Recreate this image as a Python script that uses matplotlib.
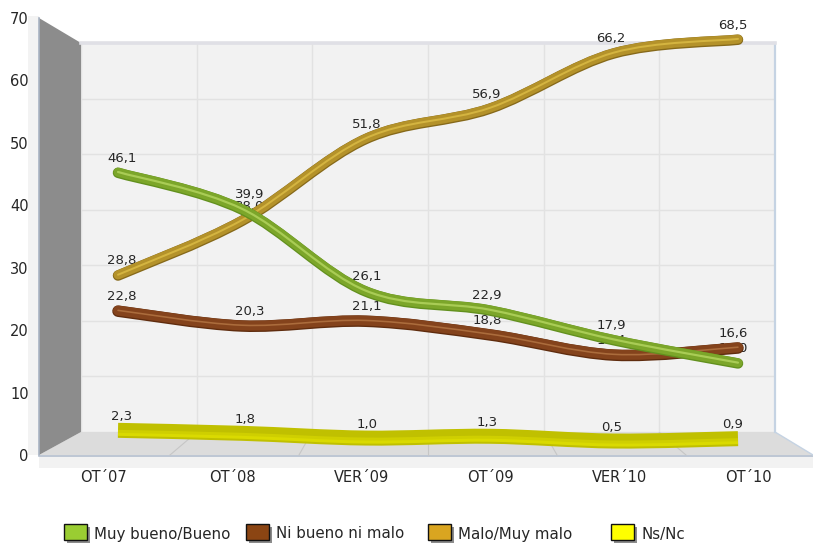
import numpy as np
import matplotlib
matplotlib.use("Agg")
import matplotlib.pyplot as plt
import matplotlib.transforms as mtrans
from matplotlib.path import Path
from matplotlib.patches import PathPatch, Polygon, Rectangle

categories = ["OT´07", "OT´08", "VER´09", "OT´09", "VER´10", "OT´10"]
muy_bueno = [46.1, 39.9, 26.1, 22.9, 17.9, 14.0]
ni_bueno = [22.8, 20.3, 21.1, 18.8, 15.4, 16.6]
malo = [28.8, 38.0, 51.8, 56.9, 66.2, 68.5]
ns_nc = [2.3, 1.8, 1.0, 1.3, 0.5, 0.9]
y_ticks = [0, 10, 20, 30, 40, 50, 60, 70]

W, H = 813, 544
fig = plt.figure(figsize=(W / 100, H / 100), dpi=100, facecolor="white")
plt.rcParams["font.family"] = "DejaVu Sans"
TXT = "#262626"


def px_axes(x0, y0, x1, y1, **kw):
    return fig.add_axes([x0 / W, 1 - y1 / H, (x1 - x0) / W, (y1 - y0) / H], **kw)


# pixel backdrop: frame of the pseudo-3D box
bg = px_axes(0, 0, W, H)
bg.set_xlim(0, W)
bg.set_ylim(H, 0)
bg.axis("off")
bg.add_patch(Rectangle((28, 16), 11, 439, fc="#f3f3f3", ec="none"))
bg.add_patch(Rectangle((39, 455), 774, 13, fc="#f2f2f2", ec="none"))
bg.add_patch(Polygon([(81, 432), (775, 432), (813, 455), (39, 455)], fc="#dcdcdc", ec="none"))
bg.add_patch(Polygon([(39, 18), (81, 43), (81, 432), (39, 455)], fc="#8c8c8c", ec="none"))
bg.plot([39, 39], [18, 455], color="#a9b4c4", lw=1.2)
bg.plot([39, 813], [455.5, 455.5], color="#b4bfcf", lw=1.2)
for xb, xf in [(197, 170), (312, 299), (428, 428), (544, 557), (659, 686)]:
    bg.plot([xb, xf], [432, 455], color="#c6c6c6", lw=0.8)
bg.plot([775, 813], [432, 455], color="#c5d3e3", lw=1)

# back wall with its own scales
wall = px_axes(81, 43, 775, 432)
wall.set_facecolor("#f2f2f2")
wall.set_xlim(0, 6)
wall.set_ylim(0, 70)
wall.set_xticks(range(7))
wall.set_yticks(y_ticks)
wall.grid(True, color="#e2e2e2", lw=1.0)
wall.tick_params(length=0, labelleft=False, labelbottom=False)
for s in wall.spines.values():
    s.set_visible(False)
wall.spines["top"].set_visible(True)
wall.spines["top"].set_color("#e0e0e6")
wall.spines["top"].set_linewidth(2.6)
wall.spines["right"].set_visible(True)
wall.spines["right"].set_color("#c5d3e3")
wall.spines["right"].set_linewidth(1.6)

# front axis carrying tick labels
front = px_axes(39, 18, 813, 455)
front.patch.set_visible(False)
front.set_xlim(-0.5, 5.5)
front.set_ylim(0, 70)
front.set_xticks(range(6))
front.set_xticklabels(categories)
front.set_yticks(y_ticks)
front.tick_params(length=0, labelsize=10.5, labelcolor=TXT)
front.tick_params(axis="y", pad=7.5)
front.tick_params(axis="x", pad=10.5)
for s in front.spines.values():
    s.set_visible(False)

# series axes: x 118..738 px for the six points, value scale of the pipes
PX0, DX, Y0, SY = 118, 124, 446, 5.94
ax = px_axes(0, 0, W, H)
ax.patch.set_visible(False)
ax.axis("off")
ax.set_xlim(-PX0 / DX, (W - PX0) / DX)
ax.set_ylim((Y0 - H) / SY, Y0 / SY)


def smooth_path(vals):
    p = np.column_stack([np.arange(len(vals), dtype=float), vals])
    verts, codes = [p[0]], [Path.MOVETO]
    for i in range(len(p) - 1):
        a = p[max(i - 1, 0)]
        d = p[min(i + 2, len(p) - 1)]
        verts += [p[i] + (p[i + 1] - a) / 6, p[i + 1] - (d - p[i]) / 6, p[i + 1]]
        codes += [Path.CURVE4] * 3
    return Path(np.array(verts), codes)


def tube(vals, layers, z, cap="round", lift=0):
    # layers: colour, width in px, vertical shift in px (upwards)
    for k, (col, lw, dy) in enumerate(layers):
        tr = mtrans.offset_copy(ax.transData, fig=fig, x=0, y=(dy + lift) / 100, units="inches")
        ax.add_patch(PathPatch(smooth_path(vals), fc="none", ec=col, lw=lw * 0.72,
                               capstyle=cap, joinstyle="round", zorder=z + k * 0.01,
                               transform=tr))


LABEL_DX = [4, 8, 1, -3, -3, -5]
NS_DX = [4, 3, 1, -3, -2, -5]


def labels(vals, dx=LABEL_DX, dy=14):
    for i, v in enumerate(vals):
        ax.annotate(f"{v:.1f}".replace(".", ","), (i, v), xytext=(dx[i] * 0.72, dy * 0.72),
                    textcoords="offset points", ha="center", va="center",
                    fontsize=9.5, color=TXT, zorder=2)


labels(ns_nc, dx=NS_DX, dy=16)
labels(ni_bueno)
labels(malo)
labels(muy_bueno)

tube(ns_nc, [("#c0c000", 15, 0), ("#dada00", 4, -3.5), ("#cfcf00", 3, -1)], 3, cap="butt", lift=2)
tube(malo, [("#86691a", 10.5, -0.6), ("#b4922a", 9, 0), ("#d4b440", 2, 0.2)], 4)
tube(ni_bueno, [("#5f2c0e", 11.5, -0.6), ("#84431c", 10, 0), ("#ab6c3c", 1.6, 0.2)], 5)
tube(muy_bueno, [("#62901e", 10.5, -0.6), ("#7ca62a", 9, 0), ("#a9cc55", 2.2, 0.2)], 6)

# legend
leg = px_axes(0, 0, W, H)
leg.patch.set_visible(False)
leg.axis("off")
leg.set_xlim(0, W)
leg.set_ylim(H, 0)
legend_names = ["Muy bueno/Bueno", "Ni bueno ni malo", "Malo/Muy malo", "Ns/Nc"]
legend_cols = ["#9ACD32", "#8B4513", "#DAA520", "#FFFF00"]
legend_x = [64, 246, 428, 611]
for x, name, col in zip(legend_x, legend_names, legend_cols):
    leg.add_patch(Rectangle((x + 3, 527), 23, 16, fc="#8c8c8c", ec="none"))
    leg.add_patch(Rectangle((x, 524), 23, 16, fc=col, ec="#111111", lw=1))
    leg.text(x + 30, 534, name, fontsize=10.8, color=TXT, va="center", ha="left")

fig.savefig("out.png", dpi=100)
